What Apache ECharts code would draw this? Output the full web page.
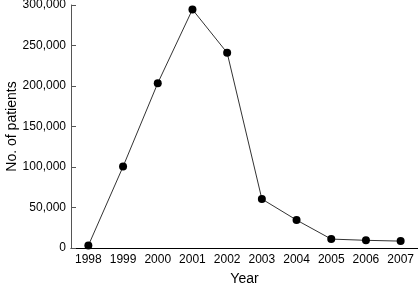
<!DOCTYPE html>
<html>
<head>
<meta charset="utf-8">
<script src="https://cdn.jsdelivr.net/npm/echarts@6/dist/echarts.min.js"></script>
<style>
html,body{margin:0;padding:0;background:#fff;}
#c{width:418px;height:285px;}
</style>
</head>
<body>
<div id="c"></div>
<script>
var years = ['1998','1999','2000','2001','2002','2003','2004','2005','2006','2007'];
var patients = [3000, 100500, 203500, 294500, 241000, 60500, 34500, 11000, 9500, 8500];
var yTicks = [0, 50000, 100000, 150000, 200000, 250000, 300000];

var chart = echarts.init(document.getElementById('c'), null, {renderer: 'canvas'});
var font = 'Liberation Sans, Arial, sans-serif';
chart.setOption({
  animation: false,
  backgroundColor: '#fff',
  grid: {left: 71, right: 0, top: 5, bottom: 37, containLabel: false, outerBoundsMode: 'none'},
  xAxis: {
    type: 'category',
    data: years,
    boundaryGap: true,
    name: 'Year',
    nameLocation: 'middle',
    nameGap: 24,
    nameMoveOverlap: false,
    nameTextStyle: {fontFamily: font, fontSize: 14, color: '#000'},
    axisLine: {lineStyle: {color: '#000', width: 1}},
    axisTick: {alignWithLabel: true, inside: true, length: 5, lineStyle: {color: '#000'}},
    axisLabel: {fontFamily: font, fontSize: 12, color: '#000', margin: 6, interval: 0}
  },
  yAxis: {
    type: 'value',
    min: yTicks[0],
    max: yTicks[yTicks.length - 1],
    interval: 50000,
    name: 'No. of patients',
    nameLocation: 'middle',
    nameGap: 52,
    nameRotate: 90,
    nameMoveOverlap: false,
    nameTextStyle: {fontFamily: font, fontSize: 14, color: '#000'},
    axisLine: {show: true, lineStyle: {color: '#555', width: 1}},
    axisTick: {show: true, inside: true, length: 5, lineStyle: {color: '#555'}},
    splitLine: {show: false},
    axisLabel: {
      fontFamily: font, fontSize: 12, color: '#000', margin: 5,
      formatter: function (v) { return v.toLocaleString('en-US'); }
    }
  },
  series: [{
    type: 'line',
    data: patients,
    symbol: 'circle',
    symbolSize: 8,
    itemStyle: {color: '#000'},
    lineStyle: {color: '#333', width: 1}
  }]
});
</script>
</body>
</html>
